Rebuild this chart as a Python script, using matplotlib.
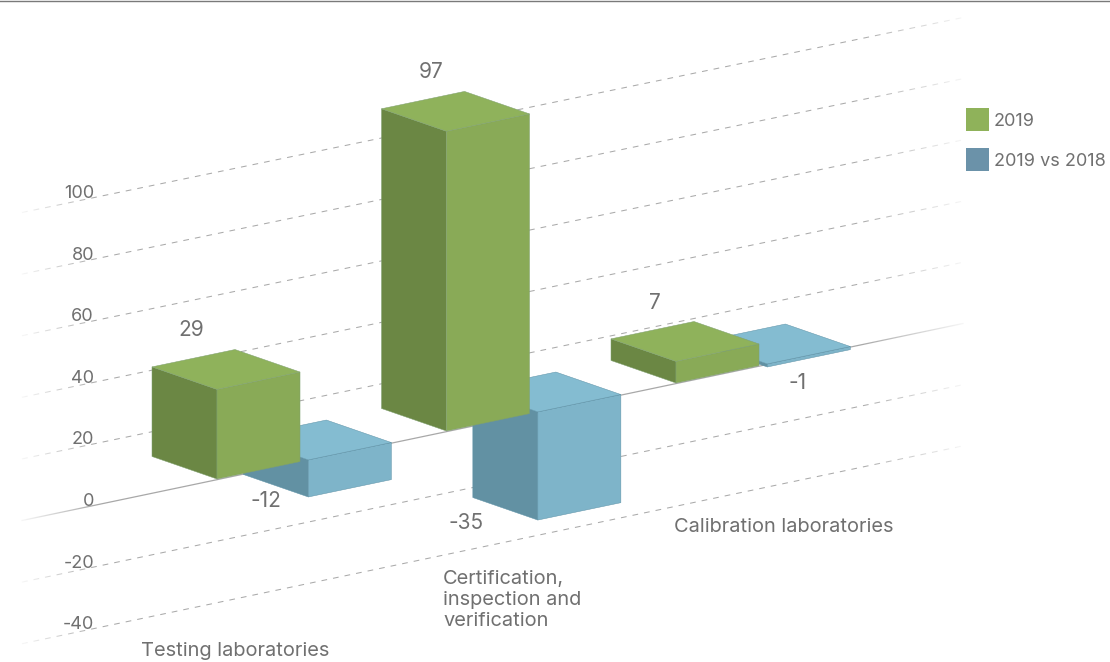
import numpy as np
import matplotlib
matplotlib.use('Agg')
import matplotlib.pyplot as plt
from matplotlib.patches import Polygon

plt.rcParams['font.family'] = ['Inter', 'DejaVu Sans']

categories = ['Testing laboratories', 'Certification,\ninspection and\nverification', 'Calibration laboratories']
values_2019 = [29, 97, 7]
values_vs_2018 = [-12, -35, -1]
grid_values = [-40, -20, 0, 20, 40, 60, 80, 100]
series_names = ['2019', '2019 vs 2018']

# oblique projection, all in pixels of the 1110x662 picture
ORIGIN = (217, 479)
CAT_STEP = (229.5, -48)
DEPTH = (-65, -22.5)
PX_PER_UNIT = 3.09
BAR_W = 0.3617
SERIES_STEP = 0.398

GREEN = {'top': '#8fb25b', 'front': '#89aa57', 'side': '#6b8744'}
BLUE = {'top': '#84bcd1', 'front': '#7eb4c9', 'side': '#6291a3'}
TEXT = '#707070'


def project(c, d, v):
    x = ORIGIN[0] + CAT_STEP[0]*c + DEPTH[0]*d
    y = ORIGIN[1] + CAT_STEP[1]*c + DEPTH[1]*d - PX_PER_UNIT*v
    return x, y


def draw_bar(ax, c, value, colors, edge, zorder):
    lo, hi = min(0, value), max(0, value)
    r = c + BAR_W
    top = [project(c, 0, hi), project(r, 0, hi), project(r, 1, hi), project(c, 1, hi)]
    front = [project(c, 0, lo), project(r, 0, lo), project(r, 0, hi), project(c, 0, hi)]
    side = [project(c, 1, lo), project(c, 0, lo), project(c, 0, hi), project(c, 1, hi)]
    for pts, key in ((side, 'side'), (front, 'front'), (top, 'top')):
        ax.add_patch(Polygon(pts, closed=True, facecolor=colors[key], edgecolor=edge,
                             linewidth=0.35, zorder=zorder))


fig = plt.figure(figsize=(11.1, 6.62), dpi=100)
ax = fig.add_axes([0, 0, 1, 1])
ax.set_xlim(0, 1110)
ax.set_ylim(662, 0)
ax.axis('off')

# the grid has a slightly flatter slope than the bars
for v in grid_values:
    y0 = 520.5 - 3.08*v
    y1 = 323.5 - 3.06*v
    if v == 0:
        ax.plot([22, 963], [y0, y1], color='#a8a8a8', lw=0.9, zorder=1)
    else:
        ax.plot([22, 963], [y0, y1], color='#aaaaaa', lw=0.75, dashes=(5.5, 5.8), zorder=1)
    ax.text(94, 501.5 - 3.08*v, str(v), ha='right', va='center', fontsize=13, color=TEXT, zorder=3)

# white fade over both ends of the grid
fade = np.zeros((1, 1110, 4))
fade[..., :3] = 1
xs = np.arange(1110)
fade[0, :, 3] = np.clip((96 - xs) / 74, 0, 1)*0.9 + np.clip((xs - 860) / 103, 0, 1)*0.9
ax.imshow(fade, extent=(0, 1110, 662, 0), aspect='auto', zorder=2)
ax.set_xlim(0, 1110)
ax.set_ylim(662, 0)

for i in range(3):
    draw_bar(ax, i + SERIES_STEP, values_vs_2018[i], BLUE, '#5f93a8', 5 + 2*i)
    draw_bar(ax, i, values_2019[i], GREEN, '#7fa070', 6 + 2*i)

value_labels = values_2019 + values_vs_2018
label_xy = [(191, 330), (431, 72), (655, 303), (266, 501), (466, 523), (798, 383)]
for val, (x, y) in zip(value_labels, label_xy):
    ax.text(x, y, str(val), ha='center', va='center', fontsize=15, color=TEXT, zorder=20)

cat_xy = [(141, 651), (443, 600), (674, 527)]
for name, (x, y) in zip(categories, cat_xy):
    ax.text(x, y, name, ha='left', va='center', fontsize=14.4, color=TEXT, linespacing=1.18, zorder=20)

# legend
for name, col, y in zip(series_names, ['#8fb25a', '#6b92a9'], [108, 148]):
    ax.add_patch(Polygon([(966, y), (989, y), (989, y + 23), (966, y + 23)], closed=True, facecolor=col, edgecolor='none', zorder=20))
    ax.text(994, y + 13, name, ha='left', va='center', fontsize=13, color=TEXT, zorder=20)

# rule at the top of the page
ax.plot([0, 1110], [0.5, 0.5], color='#7a7a7a', lw=1, zorder=20)

fig.savefig('out.png', dpi=100)
